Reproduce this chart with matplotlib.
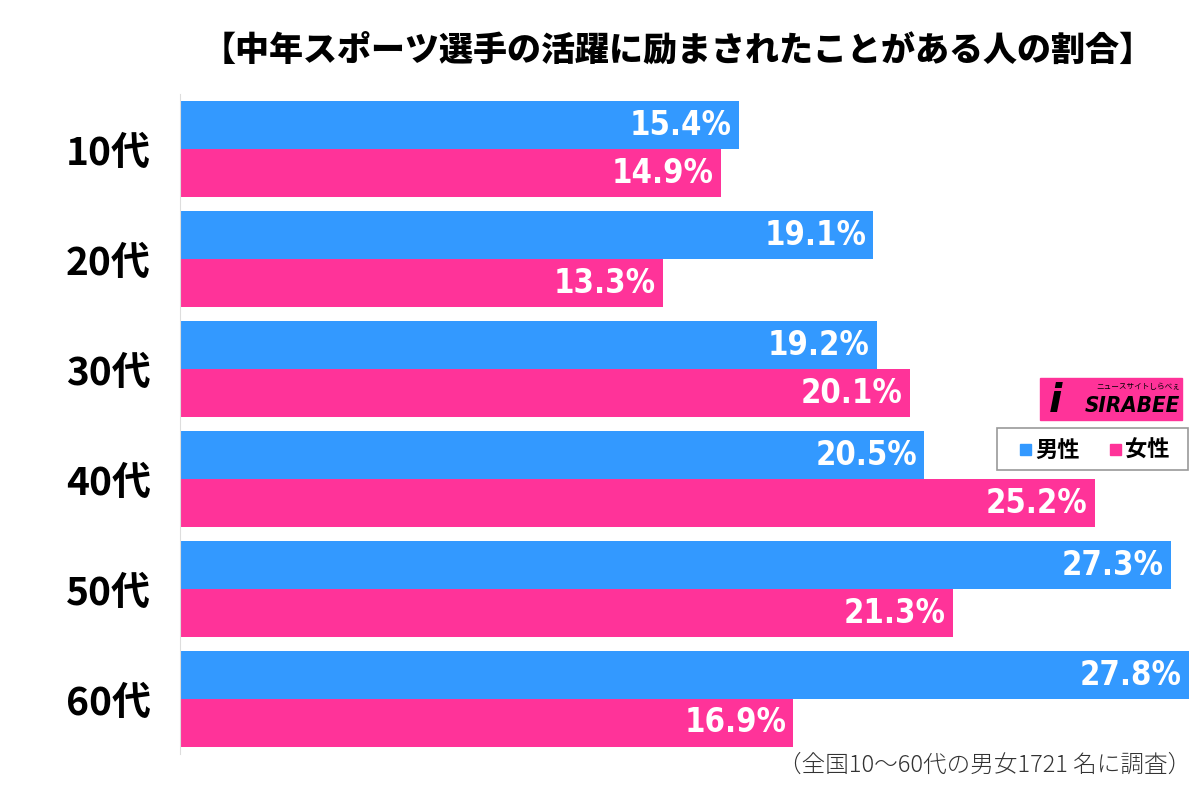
import matplotlib.pyplot as plt
from matplotlib.patches import Rectangle

plt.rcParams['font.family'] = ['Noto Sans CJK JP', 'DejaVu Sans']

ages = ["10代", "20代", "30代", "40代", "50代", "60代"]
male = [15.4, 19.1, 19.2, 20.5, 27.3, 27.8]
female = [14.9, 13.3, 20.1, 25.2, 21.3, 16.9]

title = "【中年スポーツ選手の活躍に励まされたことがある人の割合】"
note = "（全国10～60代の男女1721 名に調査）"

blue = "#3399ff"
pink = "#ff3399"

fig = plt.figure(figsize=(12, 7.92), dpi=100)
ax = fig.add_axes([0.15, 0.048, 0.85, 0.833])

h = 0.436
ys = list(range(len(ages)))
ax.barh([y - h / 2 for y in ys], male, height=h, color=blue)
ax.barh([y + h / 2 for y in ys], female, height=h, color=pink)

for y, m, f in zip(ys, male, female):
    for val, yy in ((m, y - h / 2), (f, y + h / 2)):
        ax.text(val - 0.2, yy, f"{val:.1f}%", ha="right", va="center",
                color="white", fontsize=23.5, fontweight="bold",
                family="DejaVu Sans", stretch="condensed")

ax.set_xlim(0, 28.1)
ax.set_ylim(5.5, -0.5)
ax.set_yticks(ys)
ax.set_yticklabels(ages, fontsize=28, fontweight="bold")
ax.tick_params(axis="y", length=0, pad=21)
ax.set_xticks([])
for s in ["top", "right", "bottom"]:
    ax.spines[s].set_visible(False)
ax.spines["left"].set_color("#dddddd")

fig.text(0.565, 0.937, title, ha="center", va="center", fontsize=24.5, fontweight="heavy")
fig.text(0.993, 0.034, note, ha="right", va="center", fontsize=17, color="#333333",
         fontweight="light")

# logo
fig.patches.append(Rectangle((1040 / 1200, 1 - 420 / 792), 142 / 1200, 42 / 792,
                             transform=fig.transFigure, color=pink))
fig.text(1180 / 1200, 1 - 406 / 792, "SIRABEE", ha="right", va="center",
         fontsize=16, fontweight="bold", style="italic", color="black",
         family="DejaVu Sans", stretch="condensed")
fig.text(1180 / 1200, 1 - 387 / 792, "ニュースサイトしらべぇ", ha="right", va="center",
         fontsize=5.5, color="black")
fig.text(1055 / 1200, 1 - 401 / 792, "i", ha="center", va="center",
         fontsize=28, fontweight="bold", style="italic", color="black",
         family="DejaVu Sans")

# legend box
fig.patches.append(Rectangle((997 / 1200, 1 - 470 / 792), 191 / 1200, 42 / 792,
                             transform=fig.transFigure, facecolor="white",
                             edgecolor="#999999", linewidth=1.2))
fig.patches.append(Rectangle((1020 / 1200, 1 - 455 / 792), 11 / 1200, 11 / 792,
                             transform=fig.transFigure, color=blue))
fig.text(1035 / 1200, 1 - 450 / 792, "男性", ha="left", va="center",
         fontsize=16, fontweight="bold")
fig.patches.append(Rectangle((1110 / 1200, 1 - 455 / 792), 11 / 1200, 11 / 792,
                             transform=fig.transFigure, color=pink))
fig.text(1125 / 1200, 1 - 450 / 792, "女性", ha="left", va="center",
         fontsize=16, fontweight="bold")

fig.savefig("out.png", dpi=100)
